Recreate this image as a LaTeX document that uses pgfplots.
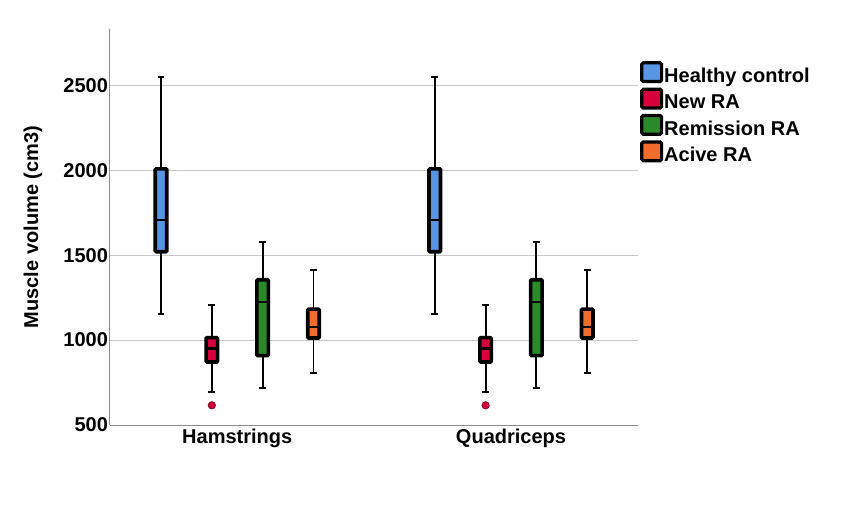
\documentclass[border=0pt]{standalone}
\usepackage{fontspec}
\setmainfont{Liberation Sans}
\usepackage{pgfplots}
\pgfplotsset{compat=1.18}
\definecolor{hcblue}{RGB}{88,150,227}
\definecolor{newred}{RGB}{214,0,60}
\definecolor{remgreen}{RGB}{42,138,42}
\definecolor{actorange}{RGB}{242,108,44}
\definecolor{gridgray}{RGB}{200,200,200}
\definecolor{axisgray}{RGB}{140,140,140}
\newcommand{\bigfont}{\bfseries\fontsize{20}{24}\selectfont}
% #1 position, #2 lower whisker, #3 lower quartile, #4 median, #5 upper quartile, #6 upper whisker, #7 colour
\newcommand{\bx}[7]{%
  \pgfmathsetmacro\bxL{#1-0.021}\pgfmathsetmacro\bxR{#1+0.021}%
  \pgfmathsetmacro\capL{#1-0.0125}\pgfmathsetmacro\capR{#1+0.0125}%
  \addplot[forget plot, black, line width=1.9pt] coordinates {(#1,#2) (#1,#3)};
  \addplot[forget plot, black, line width=1.9pt] coordinates {(#1,#5) (#1,#6)};
  \addplot[forget plot, black, line width=1.8pt] coordinates {(\capL,#2) (\capR,#2)};
  \addplot[forget plot, black, line width=1.8pt] coordinates {(\capL,#6) (\capR,#6)};
  \addplot[forget plot, draw=black, fill=#7, line width=3.6pt, rounded corners=1pt] coordinates {(\bxL,#3) (\bxR,#3) (\bxR,#5) (\bxL,#5)} -- cycle;
  \addplot[forget plot, black, line width=2.3pt] coordinates {(\bxL,#4) (\bxR,#4)};
}
\pgfplotsset{
  sq/.style={legend image code/.code={\draw[draw=black, fill=#1, line width=3.2pt, rounded corners=1.5pt] (1.6pt,-5.4pt) rectangle (21.4pt,13.4pt);}},
}
\begin{document}
\begin{tikzpicture}
\path[use as bounding box] (0,0) rectangle (854pt,504pt);
\begin{axis}[
  at={(110pt,79pt)}, anchor=south west,
  scale only axis, width=528pt, height=396pt,
  xmin=0.5352, xmax=2.4639,
  ymin=500, ymax=2831,
  axis x line=bottom, axis y line=left,
  axis line style={-, draw=axisgray, line width=1pt},
  major tick length=0pt,
  ymajorgrids, grid style={draw=gridgray, line width=1pt},
  ytick={500,1000,1500,2000,2500},
  xtick={1,2}, xticklabels={Hamstrings,Quadriceps},
  /pgf/number format/assume math mode=true,
  /pgf/number format/1000 sep={},
  ticklabel style={font=\bigfont},
  yticklabel style={xshift=1.5pt},
  ylabel={Muscle volume (cm3)},
  every axis y label/.style={at={(axis description cs:0,0.5)}, xshift=-77pt, rotate=90, anchor=center, font=\bigfont},
  legend style={at={(axis description cs:1.0038,0.9192)}, anchor=north west, draw=none, fill=none,
    inner sep=0pt, row sep=3.5pt, font=\bigfont,
    nodes={inner xsep=1pt, inner ysep=0pt}},
  legend cell align=left,
]
% Hamstrings
\bx{0.7216}{1155}{1520}{1706}{2008}{2547}{hcblue}
\bx{0.9072}{694}{871}{951}{1014}{1208}{newred}
\bx{1.0928}{720}{908}{1226}{1355}{1579}{remgreen}
\bx{1.2784}{806}{1012}{1076}{1182}{1414}{actorange}
% Quadriceps
\bx{1.7216}{1155}{1520}{1706}{2008}{2547}{hcblue}
\bx{1.9072}{694}{871}{951}{1014}{1208}{newred}
\bx{2.0928}{720}{908}{1226}{1355}{1579}{remgreen}
\bx{2.2784}{806}{1012}{1076}{1182}{1414}{actorange}
% outliers
\addplot[forget plot, only marks, mark=*, mark size=3.7pt, mark options={fill=newred, draw=newred!55!black, line width=0.7pt}] coordinates {(0.9072,616) (1.9072,616)};
\addlegendimage{sq=hcblue}\addlegendentry{Healthy control}
\addlegendimage{sq=newred}\addlegendentry{New RA}
\addlegendimage{sq=remgreen}\addlegendentry{Remission RA}
\addlegendimage{sq=actorange}\addlegendentry{Acive RA}
\end{axis}
\end{tikzpicture}
\end{document}
